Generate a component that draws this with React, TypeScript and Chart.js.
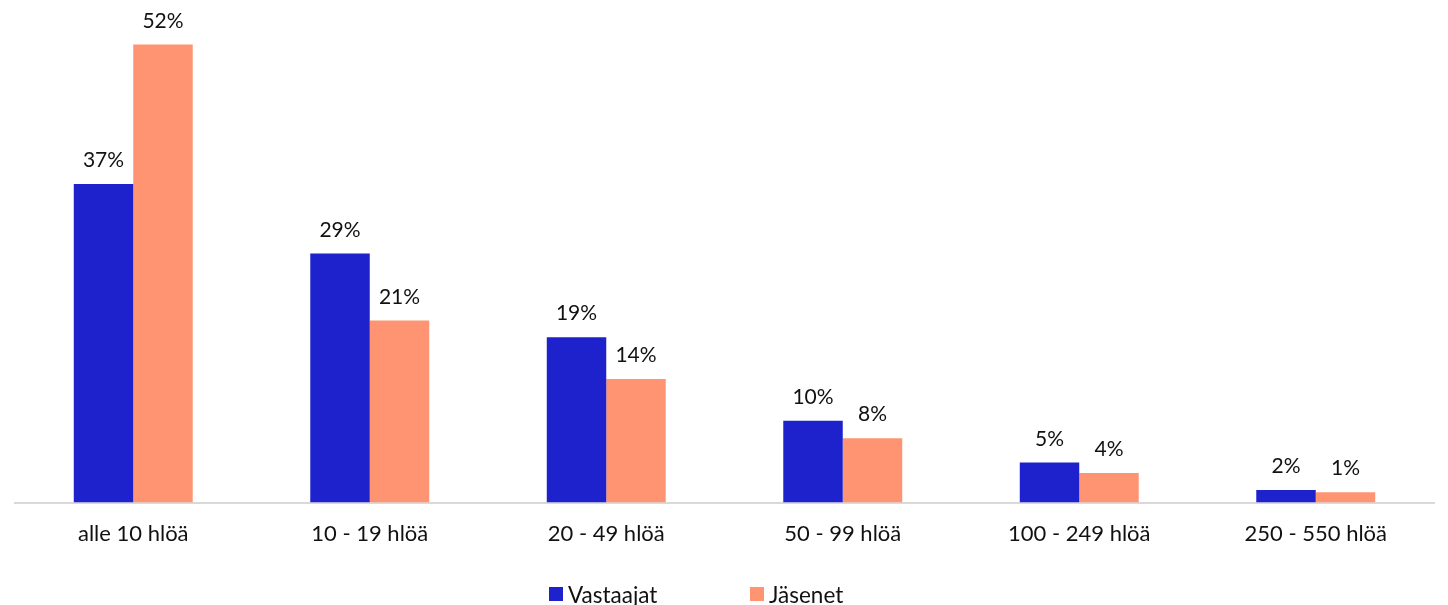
import React, { useEffect, useRef } from "react";
import { Chart, registerables } from "chart.js";

Chart.register(...registerables);

const categories = ["alle 10 hlöä", "10 - 19 hlöä", "20 - 49 hlöä", "50 - 99 hlöä", "100 - 249 hlöä", "250 - 550 hlöä"];
const seriesNames = ["Vastaajat", "Jäsenet"];
const vastaajatValues = [36.6, 28.6, 19.0, 9.4, 4.6, 1.46];
const jasenetValues = [52.6, 20.9, 14.2, 7.4, 3.4, 1.2];
const vastaajatLabels = ["37%", "29%", "19%", "10%", "5%", "2%"];
const jasenetLabels = ["52%", "21%", "14%", "8%", "4%", "1%"];

const BLUE = "#1E22CC";
const ORANGE = "#FF9473";
const TEXT = "#111111";
const FONT = "Lato, Carlito, Calibri, 'Noto Sans', sans-serif";

export default function App() {
  const ref = useRef<HTMLCanvasElement | null>(null);

  useEffect(() => {
    if (!ref.current) return;
    const labelSets = [vastaajatLabels, jasenetLabels];

    const valueLabels = {
      id: "valueLabels",
      afterDatasetsDraw(chart: any) {
        const ctx = chart.ctx;
        ctx.save();
        ctx.font = `21px ${FONT}`;
        ctx.fillStyle = TEXT;
        ctx.textAlign = "center";
        ctx.textBaseline = "alphabetic";
        chart.data.datasets.forEach((ds: any, di: number) => {
          const meta = chart.getDatasetMeta(di);
          meta.data.forEach((el: any, i: number) => {
            ctx.fillText(labelSets[di][i], el.x, el.y - 17);
          });
        });
        ctx.restore();
      },
    };

    const customLegend = {
      id: "customLegend",
      afterDraw(chart: any) {
        const ctx = chart.ctx;
        ctx.save();
        ctx.font = `22.5px ${FONT}`;
        ctx.textBaseline = "alphabetic";
        ctx.textAlign = "left";
        const starts = [549, 750];
        chart.data.datasets.forEach((ds: any, di: number) => {
          const x = starts[di];
          ctx.fillStyle = ds.backgroundColor;
          ctx.fillRect(x, 587, 14, 14);
          ctx.fillStyle = TEXT;
          ctx.fillText(ds.label, x + 19, 603);
        });
        ctx.restore();
      },
    };

    const chart = new Chart(ref.current, {
      type: "bar",
      data: {
        labels: categories,
        datasets: [
          { label: seriesNames[0], data: vastaajatValues, backgroundColor: BLUE, barPercentage: 1, categoryPercentage: 0.503 },
          { label: seriesNames[1], data: jasenetValues, backgroundColor: ORANGE, barPercentage: 1, categoryPercentage: 0.503 },
        ],
      },
      options: {
        animation: false,
        responsive: false,
        maintainAspectRatio: false,
        layout: { padding: { left: 15, right: 14, top: 15, bottom: 40 } },
        plugins: {
          legend: { display: false },
          tooltip: { enabled: false },
        },
        scales: {
          x: {
            grid: { display: false, drawTicks: false },
            border: { display: true, color: "#d9d9d9", width: 2 },
            ticks: { color: TEXT, font: { family: FONT, size: 22 }, padding: 18, maxRotation: 0, autoSkip: false },
          },
          y: {
            display: false,
            min: 0,
            max: 56,
          },
        },
      },
      plugins: [valueLabels, customLegend],
    });
    return () => chart.destroy();
  }, []);

  return (
    <div style={{ position: "absolute", left: 0, top: 0, width: 1448, height: 605, background: "#fff" }}>
      <canvas ref={ref} width={1448} height={605} style={{ width: 1448, height: 605 }} />
    </div>
  );
}
